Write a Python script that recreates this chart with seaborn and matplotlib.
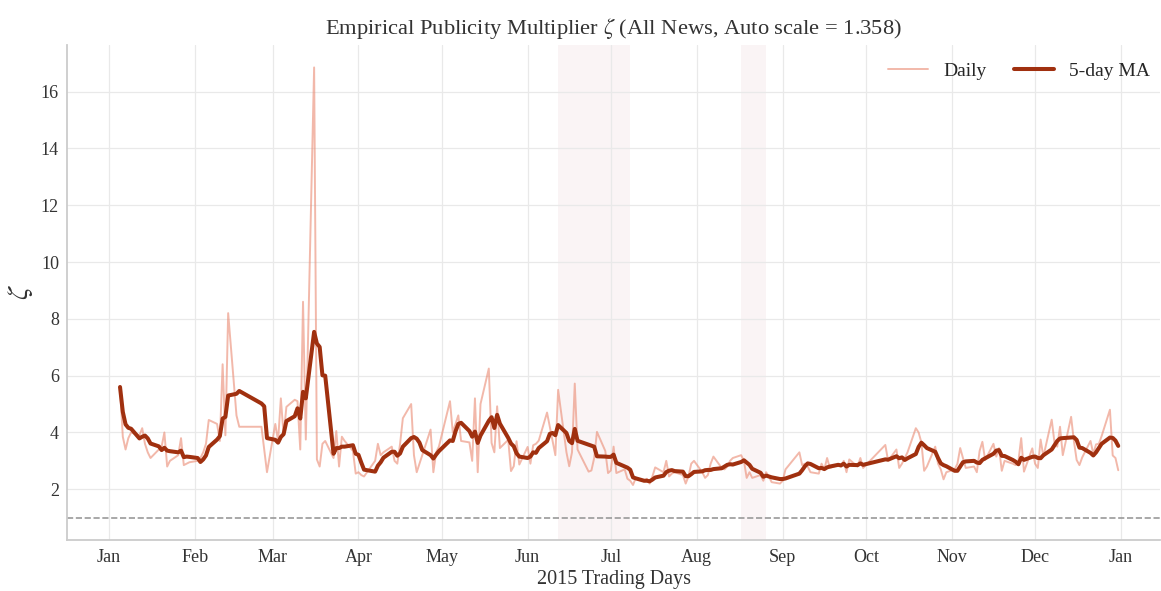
import numpy as np
import pandas as pd
import matplotlib
matplotlib.use("Agg")
import matplotlib.pyplot as plt
import matplotlib.dates as mdates
import seaborn as sns

# Daily publicity multiplier zeta, one list per month (trading days only)
jan = [5.6, 3.85, 3.4, 3.8, 4.0, 3.9, 4.15, 3.6, 3.3, 3.1,
       3.4, 3.5, 4.0, 2.8, 3.0, 3.2, 3.8, 2.85, 2.9, 2.95]
feb = [3.0, 3.1, 3.3, 3.6, 4.44, 4.3, 3.7, 6.4, 3.9, 8.2,
       4.6, 4.2, 4.2, 3.4, 2.6]
mar = [4.3, 3.7, 5.2, 3.9, 4.9, 5.15, 5.1, 3.4, 8.6, 3.75,
       16.85, 3.05, 2.8, 3.6, 3.7, 3.1, 4.05, 2.8, 3.85, 3.7,
       3.35, 2.55]
apr = [2.6, 2.5, 2.45, 3.0, 3.6, 3.2, 3.3, 3.5, 3.0, 2.9,
       3.6, 4.5, 5.0, 3.2, 2.6, 2.9, 3.2, 4.1, 2.6, 3.3, 3.5]
may = [5.1, 4.0, 4.3, 4.6, 3.7, 3.65, 3.0, 5.2, 2.6, 5.0,
       6.25, 3.63, 3.3, 4.92, 3.45, 3.74, 2.64, 2.81, 3.69, 2.87]
jun = [3.49, 2.9, 3.55, 3.6, 3.71, 4.7, 4.2, 3.7, 3.2, 5.5,
       3.3, 2.81, 3.3, 5.72, 3.4, 2.62, 2.66, 3.1, 4.02, 3.35, 2.57]
jul = [2.66, 3.5, 2.57, 2.7, 2.37, 2.3, 2.15, 2.4, 2.28, 2.37,
       2.2, 2.45, 2.77, 2.6, 3.0, 2.45, 2.55, 2.6, 2.5, 2.2,
       2.45, 2.9, 3.0]
aug = [2.6, 2.4, 2.5, 2.9, 3.15, 2.75, 2.7, 2.8, 3.0, 3.1,
       3.2, 3.0, 2.4, 2.6, 2.4, 2.5, 2.3, 2.6, 2.45, 2.25, 2.2]
sep = [2.3, 2.7, 3.3, 2.85, 2.9, 2.8, 2.6, 2.55, 2.9, 2.7,
       3.1, 2.75, 2.85, 2.8, 3.0, 2.6, 3.05, 2.8, 3.1, 2.75]
oct_ = [3.56, 3.0, 3.4, 2.75, 2.9, 3.1, 3.3, 4.15, 4.0, 3.65,
        2.65, 2.8, 3.5, 2.9, 2.7, 2.35, 2.6]
nov = [2.7, 2.9, 3.45, 3.1, 2.75, 2.8, 2.6, 3.35, 3.67, 3.03,
       3.6, 3.15, 3.45, 2.65, 3.0, 2.9, 2.85, 3.0, 3.8, 2.62, 3.44]
dec = [2.9, 2.75, 3.75, 3.15, 4.45, 3.65, 3.5, 4.2, 3.2, 4.55,
       3.7, 3.03, 2.85, 3.12, 3.7, 3.25, 3.58, 3.6, 3.87, 4.8,
       3.19, 3.1, 2.67]

# Weekday exchange closures in 2015
closed_days = ["2015-02-18", "2015-02-19", "2015-02-20", "2015-02-23",
               "2015-02-24", "2015-04-06", "2015-05-01", "2015-06-22",
               "2015-09-03", "2015-09-04", "2015-10-01", "2015-10-02",
               "2015-10-05", "2015-10-06", "2015-10-07"]

# Shaded stress windows
stress_windows = [("2015-06-12", "2015-07-08"), ("2015-08-17", "2015-08-26")]

auto_scale = 1.358
baseline = 1.0

# Trading calendar and series
days = pd.bdate_range("2015-01-05", "2015-12-31")
days = days[~days.isin(pd.to_datetime(closed_days))]
zeta = np.concatenate([jan, feb, mar, apr, may, jun, jul, aug, sep, oct_, nov, dec])
df = pd.DataFrame({"date": days, "zeta": zeta})
df["ma"] = df["zeta"].rolling(5, min_periods=1).mean()

sns.set_theme(style="whitegrid")
plt.rcParams["font.family"] = ["Liberation Serif", "DejaVu Serif"]
plt.rcParams["mathtext.fontset"] = "stix"

fig, ax = plt.subplots(figsize=(11.61, 5.91), dpi=100)
fig.subplots_adjust(left=0.058, right=0.999, top=0.924, bottom=0.086)

for start, end in stress_windows:
    ax.axvspan(pd.Timestamp(start), pd.Timestamp(end), color="#b04050",
               alpha=0.055, lw=0, zorder=0)

sns.lineplot(data=df, x="date", y="zeta", ax=ax, color="#ea8a72", alpha=0.6,
             lw=1.4, label="Daily")
sns.lineplot(data=df, x="date", y="ma", ax=ax, color="#a0300f", lw=2.9,
             label="5-day MA")
ax.axhline(baseline, color="#999999", ls="--", lw=1.2, zorder=1)

ax.set_xlim(pd.Timestamp("2014-12-17"), pd.Timestamp("2016-01-15"))
ax.xaxis.set_major_locator(mdates.MonthLocator())
ax.xaxis.set_major_formatter(mdates.DateFormatter("%b"))
ax.grid(True, color="#e9e9e9", lw=0.9)
ax.tick_params(axis="both", labelsize=13, colors="#333333", length=0, pad=6)
for side in ("top", "right"):
    ax.spines[side].set_visible(False)
for side in ("left", "bottom"):
    ax.spines[side].set_color("#cccccc")
    ax.spines[side].set_linewidth(1.3)

ax.set_title(rf"Empirical Publicity Multiplier $\zeta$ (All News, Auto scale = {auto_scale:.3f})",
             fontsize=16.2, color="#333333", pad=8)
ax.set_xlabel("2015 Trading Days", fontsize=14.5, color="#333333", labelpad=3)
ax.set_ylabel(r"$\zeta$", fontsize=21, color="#333333", labelpad=4)
ax.legend(loc="upper right", bbox_to_anchor=(1.0, 0.984), ncol=2,
          frameon=False, fontsize=14, handlelength=2.05, handletextpad=0.8,
          columnspacing=1.4, borderaxespad=0.1)

fig.savefig("out.png", dpi=100)
